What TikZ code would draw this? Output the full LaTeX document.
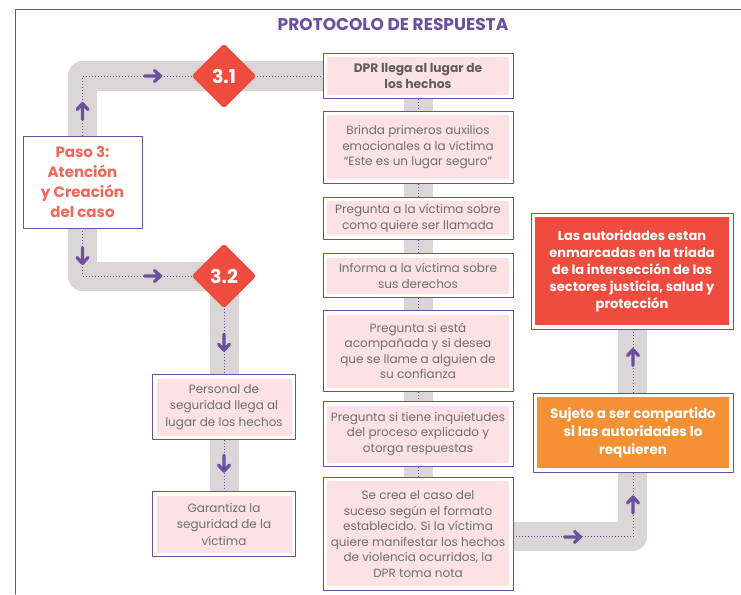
\documentclass[tikz,border=0pt]{standalone}
\usepackage{fontspec}
\setmainfont{Poppins}
\usetikzlibrary{positioning,shapes.geometric,decorations.markings,backgrounds}
\definecolor{morado}{RGB}{108,78,158}
\definecolor{coral}{RGB}{240,104,88}
\definecolor{rojo}{RGB}{238,76,62}
\definecolor{naranja}{RGB}{243,145,52}
\definecolor{rosa}{RGB}{252,226,226}
\definecolor{grisbanda}{RGB}{218,213,215}
\definecolor{gristexto}{RGB}{110,110,113}
\tikzset{every picture/.style={line cap=round, line join=round}}
\tikzset{caja/.style={draw=morado, fill=white, line width=0.9pt, rectangle, align=center,
  inner sep=0pt, text=gristexto, font=\fontsize{12}{15.5}\selectfont,
  path picture={\fill[#1] ([shift={(4pt,-4pt)}]path picture bounding box.north west)
    rectangle ([shift={(-4pt,4pt)}]path picture bounding box.south east);}},
  caja/.default=rosa}
\tikzset{central/.style={caja, minimum width=190pt}}
\tikzset{lateral/.style={caja, minimum width=143pt, minimum height=65pt, font=\fontsize{12}{16.5}\selectfont}}
\tikzset{rombo/.style={diamond, fill=rojo, text=white, minimum width=65pt, minimum height=65pt,
  inner sep=0pt, rounded corners=3pt, font=\bfseries\fontsize{19}{19}\selectfont}}
\tikzset{banda/.style={draw=grisbanda, line width=29pt, line cap=butt, line join=round}}
\tikzset{punteado/.style={draw=morado, line width=0.9pt, dash pattern=on 0.9pt off 2.1pt, line cap=butt}}
\tikzset{flechaicon/.style={draw=morado, solid, line width=3.2pt, line cap=round, line join=round}}
\tikzset{flecha/.style={postaction={decorate, decoration={markings,
  mark=at position #1 with {\draw[flechaicon] (-8pt,0pt) -- (8pt,0pt) (2pt,5.5pt) -- (8pt,0pt) -- (2pt,-5.5pt);}}}}}

\begin{document}
\begin{tikzpicture}[x=1pt, y=-1pt]
  \useasboundingbox (0,0) rectangle (741,594);
  % marco
  \draw[morado, line width=1pt] (15,594) |- (741,10);
  \node[font=\bfseries\fontsize{17}{17}\selectfont, text=morado] (titulo) at (393,25) {PROTOCOLO DE RESPUESTA};

  % paso 3
  \node[caja=white, text=coral, font=\bfseries\fontsize{15}{20}\selectfont,
        minimum width=119pt, minimum height=92pt] (paso) at (82.5,182) {Paso 3:\\Atención\\y Creación\\del caso};
  \node[rombo] (d31) at (224,76) {3.1};
  \node[rombo] (d32) at (224,276) {3.2};

  % columna central
  \node[central, minimum height=45pt, text=gristexto!85!black, font=\bfseries\fontsize{12.3}{15.5}\selectfont]
        (dpr) at (418,76) {DPR llega al lugar de\\los hechos};
  \node[central, minimum height=72pt, below=12pt of dpr] (brinda)
        {Brinda primeros auxilios\\emocionales a la víctima\\“Este es un lugar seguro”};
  \node[central, minimum height=42pt, below=13pt of brinda] (llamada)
        {Pregunta a la víctima sobre\\como quiere ser llamada};
  \node[central, minimum height=44pt, below=13.5pt of llamada] (derechos)
        {Informa a la víctima sobre\\sus derechos};
  \node[central, minimum height=81pt, below=12pt of derechos] (confianza)
        {Pregunta si está\\acompañada y si desea\\que se llame a alguien de\\su confianza};
  \node[central, minimum height=65pt, below=9pt of confianza] (inquietudes)
        {Pregunta si tiene inquietudes\\del proceso explicado y\\otorga respuestas};
  \node[central, minimum height=113pt, below=10pt of inquietudes] (secrea)
        {Se crea el caso del\\suceso según el formato\\establecido. Si la víctima\\quiere manifestar los hechos\\de violencia ocurridos, la\\DPR toma nota};

  % columna 3.2
  \node[lateral, below=65.5pt of d32] (personal) {Personal de\\seguridad llega al\\lugar de los hechos};
  \node[lateral, below=51pt of personal] (garantiza) {Garantiza la\\seguridad de la\\víctima};

  % autoridades
  \node[caja=rojo, text=white, font=\bfseries\fontsize{13}{17}\selectfont,
        minimum width=202pt, minimum height=116pt] (autoridades) at (632,271)
        {Las autoridades estan\\enmarcadas en la triada\\de la intersección de los\\sectores justicia, salud y\\protección};
  \node[caja=naranja, text=white, font=\bfseries\fontsize{13.5}{18}\selectfont,
        minimum width=200pt, minimum height=79pt] (sujeto) at (633,432.5)
        {Sujeto a ser compartido\\si las autoridades lo\\requieren};

  \begin{pgfonlayer}{background}
    % bandas grises
    \draw[banda] (paso.center) |- (d31.center) -- (dpr.center);
    \draw[banda] (paso.center) |- (d32.center) -- (garantiza.center);
    \draw[banda] (dpr.center) -- (secrea.center);
    \draw[banda] ([yshift=-3pt]secrea.center) -| (autoridades.center);
    % conectores
    \draw[punteado, flecha=24pt, flecha=129.5pt] (paso.north) |- (d31.west);
    \draw[punteado] (d31.east) -- (dpr.west);
    \draw[punteado, flecha=27pt, flecha=117.5pt] (paso.south) |- (d32.west);
    \draw[punteado, flecha=33.5pt] (d32.south) -- (personal.north);
    \draw[punteado, flecha=23pt] (personal.south) -- (garantiza.north);
    \foreach \a/\b in {dpr/brinda, brinda/llamada, llamada/derechos, derechos/confianza,
                       confianza/inquietudes, inquietudes/secrea}
      \draw[punteado] (\a.south) -- (\b.north);
    \draw[punteado, flecha=59pt, flecha=151.5pt] ([yshift=-3pt]secrea.east) -| (sujeto.south);
    \draw[punteado, flecha=35pt] (sujeto.north) -- (sujeto.north |- autoridades.south);
  \end{pgfonlayer}
\end{tikzpicture}
\end{document}
